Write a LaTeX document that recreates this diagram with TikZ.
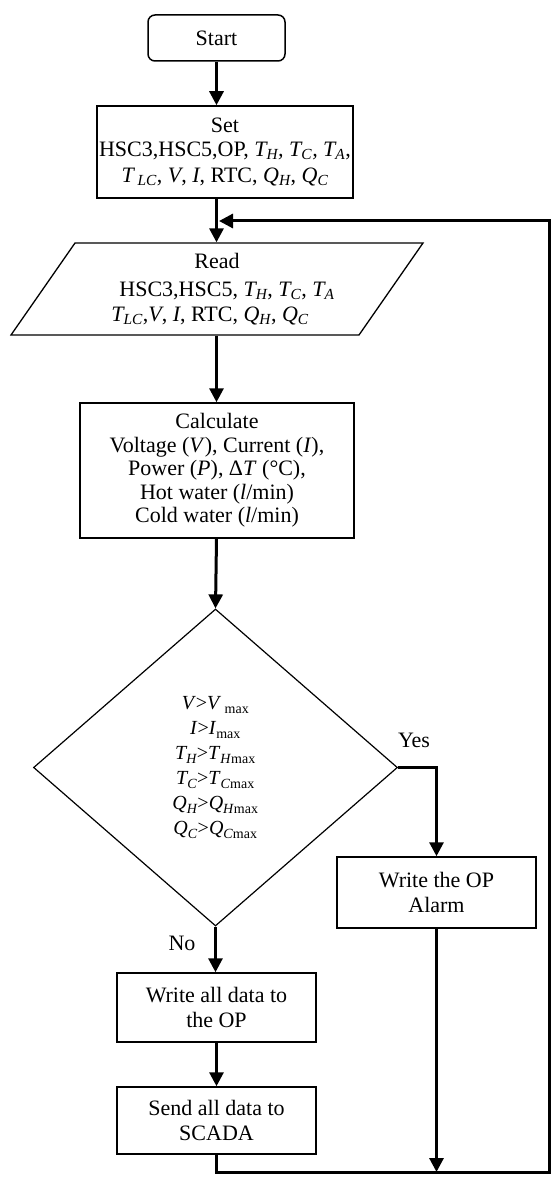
\documentclass[tikz,border=0pt]{standalone}
\usepackage{fontspec}
\setmainfont{Liberation Serif}
\usetikzlibrary{arrows.meta,shapes.geometric}

\begin{document}
\begin{tikzpicture}[x=1pt,y=-1pt,font=\fontsize{22}{24.5}\selectfont,
  box/.style={draw,line width=1.5pt,inner sep=2pt,align=center},
  flow/.style={line width=3pt,-{Triangle[width=14pt,length=14pt]}}]
\useasboundingbox (0,0) rectangle (552,1182);
\node[box,rounded corners=7pt,minimum width=137pt,minimum height=46pt] (start) at (216.5,38) {Start};
\node[box,minimum width=256pt,minimum height=92pt,font=\fontsize{22}{26}\selectfont] (set) at (225,152) {Set\\[-2pt]HSC3,HSC5,OP, \textit{T\textsubscript{H}, T\textsubscript{C}, T\textsubscript{A}},\\\textit{T\,\textsubscript{LC}}, \textit{V}, \textit{I}, RTC, \textit{Q\textsubscript{H}}, \textit{Q\textsubscript{C}}};
\node[draw,line width=1.3pt,trapezium,trapezium left angle=48.3,trapezium right angle=131.7,trapezium stretches body,minimum width=412pt,minimum height=92pt,inner sep=0pt,align=center] (read) at (217,289) {Read\\[4pt]\hspace*{20pt}HSC3,HSC5, \textit{T\textsubscript{H}}, \textit{T\textsubscript{C}}, \textit{T\textsubscript{A}}\\\textit{T\textsubscript{LC}},\textit{V}, \textit{I}, RTC, \textit{Q\textsubscript{H}}, \textit{Q\textsubscript{C}}\hspace*{14pt}};
\node[box,minimum width=274pt,minimum height=135pt,font=\fontsize{22}{23.5}\selectfont] (calc) at (217,470.5) {Calculate\\Voltage (\textit{V}), Current (\textit{I}),\\Power (\textit{P}), Δ\textit{T} (°C),\\Hot water (\textit{l}/min)\\Cold water (\textit{l}/min)};
\node[draw,line width=1.2pt,diamond,minimum width=364pt,minimum height=317pt,inner sep=0pt,align=center,font=\fontsize{20}{25}\selectfont] (check) at (215.5,767.5) {\textit{V}>\textit{V}\,\textsubscript{max}\\\textit{I}>\textit{I}\textsubscript{max}\\\textit{T\textsubscript{H}}>\textit{T}\textsubscript{\textit{H}max}\\\textit{T\textsubscript{C}}>\textit{T}\textsubscript{\textit{C}max}\\\textit{Q\textsubscript{H}}>\textit{Q}\textsubscript{\textit{H}max}\\\textit{Q\textsubscript{C}}>\textit{Q}\textsubscript{\textit{C}max}};
\node[box,minimum width=199pt,minimum height=71pt] (alarm) at (436.5,892.5) {Write the OP\\Alarm};
\node[box,minimum width=199pt,minimum height=69pt] (write) at (216.5,1007.5) {Write all data to\\the OP};
\node[box,minimum width=199pt,minimum height=67pt] (send) at (216.5,1120.5) {Send all data to\\SCADA};
\node (yes) at (414,740) {Yes};
\node (no) at (182,943) {No};
\coordinate (merge) at (219,221);
\coordinate (loopbr) at (549,1172);
\coordinate (looptr) at (549,221);
\draw[flow] (start) -- (set.north -| start);
\draw[flow] (set.south -| start) -- (read.north -| start);
\draw[flow] (read.south -| start) -- (calc.north -| start);
\draw[flow] (calc.south -| start) -- (check.north);
\draw[flow] (check.east) -| (alarm.north);
\draw[flow] (check.south) -- (check.south |- write.north);
\draw[flow] (write) -- (send);
\draw[flow] (alarm) -- (alarm.south |- loopbr);
\draw[flow] (send) |- (loopbr) -- (looptr) -- (merge);
\end{tikzpicture}
\end{document}
